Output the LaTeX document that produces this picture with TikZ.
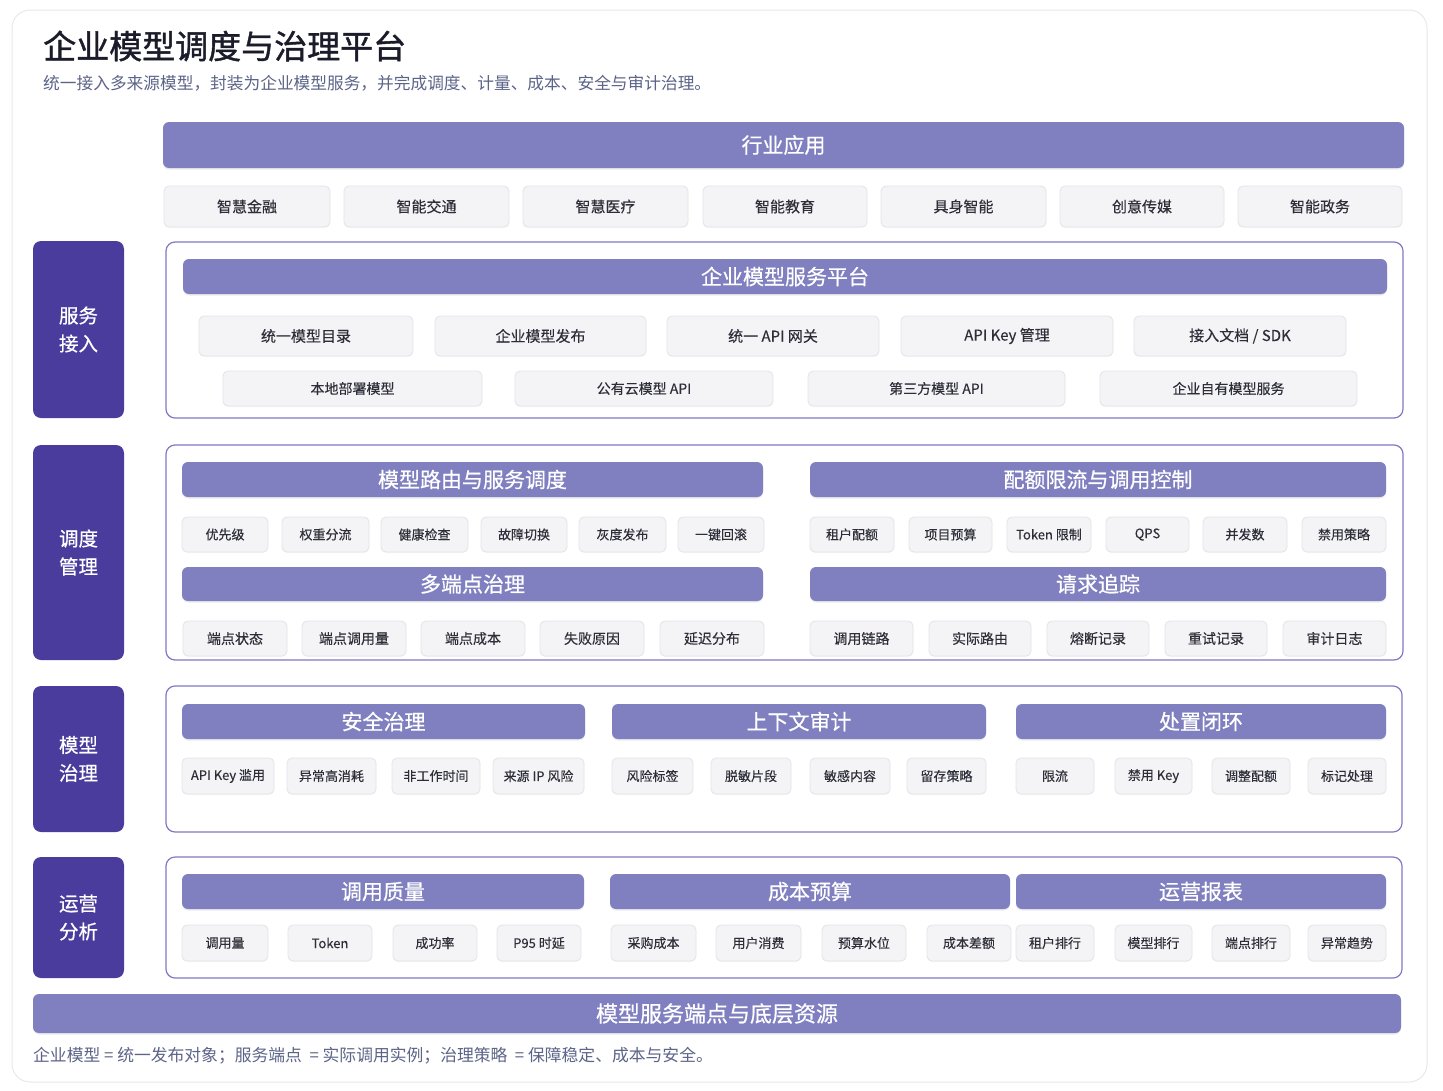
\documentclass[tikz,border=0pt]{standalone}
\usepackage{fontspec}
\setmainfont{Noto Sans CJK SC}
\setsansfont{Noto Sans CJK SC}
\newfontfamily\titf[FakeBold=1.2]{Noto Sans CJK SC}
\newfontfamily\medf[FakeBold=0.6]{Noto Sans CJK SC}
\newfontfamily\chipf[FakeBold=0.3]{Noto Sans CJK SC}
\usetikzlibrary{shadows}
\definecolor{barc}{HTML}{8080C0}
\definecolor{labc}{HTML}{4A3C9C}
\definecolor{framec}{HTML}{8078C6}
\definecolor{chipfc}{HTML}{F4F4F7}
\definecolor{chipd}{HTML}{E3E3EA}
\definecolor{chipt}{HTML}{2E2E38}
\definecolor{titc}{HTML}{1B1B2A}
\definecolor{subc}{HTML}{5C6488}
\definecolor{cardd}{HTML}{E8E8EE}
\newcommand\bx[7]{\node[#6, minimum width={(#4-#2)*1pt}, minimum height={(#5-#3)*1pt}] (#1) at ({(#2+#4)/2},{(#3+#5)/2}) {#7};}
\tikzset{
  base/.style={inner sep=0pt, outer sep=0pt, align=center},
  barbox/.style={base, fill=barc, rounded corners=6pt, text=white, font=\medf\fontsize{21}{24}\selectfont,
    drop shadow={opacity=0.15, shadow xshift=0pt, shadow yshift=-1.5pt}},
  chipbox/.style={base, fill=chipfc, draw=chipd, line width=0.8pt, rounded corners=5pt, text=chipt,
    drop shadow={opacity=0.06, shadow xshift=0pt, shadow yshift=-1pt}},
  fA/.style={font=\chipf\fontsize{15}{18}\selectfont},
  fB/.style={font=\chipf\fontsize{14}{17}\selectfont},
  fC/.style={font=\chipf\fontsize{13}{16}\selectfont},
  labbox/.style={base, fill=labc, rounded corners=8pt, text=white, font=\medf\fontsize{19.5}{28}\selectfont},
  framebox/.style={base, fill=white, draw=framec, line width=1.2pt, rounded corners=9pt},
}
\begin{document}
\begin{tikzpicture}[x=1pt,y=-1pt]
\useasboundingbox (0,0) rectangle (1443,1090);
\fill[white] (0,0) rectangle (1443,1090);
\draw[cardd, fill=white, rounded corners=18pt, line width=1pt] (12,10) rectangle (1427,1082);

\node[anchor=west, text=titc, font=\titf\fontsize{33}{38}\selectfont, inner sep=0pt] (title) at (43,46) {企业模型调度与治理平台};
\node[anchor=west, text=subc, font=\fontsize{16.7}{19}\selectfont, inner sep=0pt] (subtitle) at (43,83) {统一接入多来源模型，封装为企业模型服务，并完成调度、计量、成本、安全与审计治理。};

% top bar
\bx{app}{163}{122}{1404}{168}{barbox}{行业应用}
\bx{i1}{164}{186}{330}{227}{chipbox,fA}{智慧金融}
\bx{i2}{344}{186}{509}{227}{chipbox,fA}{智能交通}
\bx{i3}{523}{186}{688}{227}{chipbox,fA}{智慧医疗}
\bx{i4}{703}{186}{867}{227}{chipbox,fA}{智能教育}
\bx{i5}{881}{186}{1046}{227}{chipbox,fA}{具身智能}
\bx{i6}{1060}{186}{1224}{227}{chipbox,fA}{创意传媒}
\bx{i7}{1238}{186}{1402}{227}{chipbox,fA}{智能政务}

% left labels
\bx{L1}{33}{241}{124}{418}{labbox}{服务\\接入}
\bx{L2}{33}{445}{124}{660}{labbox}{调度\\管理}
\bx{L3}{33}{686}{124}{832}{labbox}{模型\\治理}
\bx{L4}{33}{857}{124}{978}{labbox}{运营\\分析}

% frames
\bx{F1}{166}{242}{1403}{418}{framebox}{}
\bx{F2}{166}{445}{1403}{660}{framebox}{}
\bx{F3}{166}{686}{1402}{832}{framebox}{}
\bx{F4}{166}{857}{1402}{978}{framebox}{}

% frame 1
\bx{b1}{183}{259}{1387}{294}{barbox}{企业模型服务平台}
\bx{s1}{199}{316}{413}{356}{chipbox,fA}{统一模型目录}
\bx{s2}{435}{316}{646}{356}{chipbox,fA}{企业模型发布}
\bx{s3}{667}{316}{879}{356}{chipbox,fA}{统一 API 网关}
\bx{s4}{901}{316}{1113}{356}{chipbox,fA}{API Key 管理}
\bx{s5}{1134}{316}{1346}{356}{chipbox,fA}{接入文档 / SDK}
\bx{m1}{223}{371}{482}{406}{chipbox,fB}{本地部署模型}
\bx{m2}{515}{371}{773}{406}{chipbox,fB}{公有云模型 API}
\bx{m3}{808}{371}{1065}{406}{chipbox,fB}{第三方模型 API}
\bx{m4}{1100}{371}{1357}{406}{chipbox,fB}{企业自有模型服务}

% frame 2
\bx{b21}{182}{462}{763}{497}{barbox}{模型路由与服务调度}
\bx{b22}{810}{462}{1386}{497}{barbox}{配额限流与调用控制}
\bx{r1}{182}{517}{268}{552}{chipbox,fC}{优先级}
\bx{r2}{282}{517}{369}{552}{chipbox,fC}{权重分流}
\bx{r3}{381}{517}{468}{552}{chipbox,fC}{健康检查}
\bx{r4}{481}{517}{567}{552}{chipbox,fC}{故障切换}
\bx{r5}{579}{517}{666}{552}{chipbox,fC}{灰度发布}
\bx{r6}{678}{517}{764}{552}{chipbox,fC}{一键回滚}
\bx{q1}{810}{517}{894}{552}{chipbox,fC}{租户配额}
\bx{q2}{909}{517}{992}{552}{chipbox,fC}{项目预算}
\bx{q3}{1007}{517}{1091}{552}{chipbox,fC}{Token 限制}
\bx{q4}{1106}{517}{1189}{552}{chipbox,fC}{QPS}
\bx{q5}{1203}{517}{1287}{552}{chipbox,fC}{并发数}
\bx{q6}{1302}{517}{1386}{552}{chipbox,fC}{禁用策略}
\bx{b23}{182}{567}{763}{601}{barbox}{多端点治理}
\bx{b24}{810}{567}{1386}{601}{barbox}{请求追踪}
\bx{e1}{183}{621}{287}{656}{chipbox,fB}{端点状态}
\bx{e2}{302}{621}{406}{656}{chipbox,fB}{端点调用量}
\bx{e3}{421}{621}{525}{656}{chipbox,fB}{端点成本}
\bx{e4}{540}{621}{644}{656}{chipbox,fB}{失败原因}
\bx{e5}{660}{621}{764}{656}{chipbox,fB}{延迟分布}
\bx{t1}{810}{621}{913}{656}{chipbox,fB}{调用链路}
\bx{t2}{929}{621}{1031}{656}{chipbox,fB}{实际路由}
\bx{t3}{1047}{621}{1149}{656}{chipbox,fB}{熔断记录}
\bx{t4}{1165}{621}{1267}{656}{chipbox,fB}{重试记录}
\bx{t5}{1283}{621}{1386}{656}{chipbox,fB}{审计日志}

% frame 3
\bx{b31}{182}{704}{585}{739}{barbox}{安全治理}
\bx{b32}{612}{704}{986}{739}{barbox}{上下文审计}
\bx{b33}{1016}{704}{1386}{739}{barbox}{处置闭环}
\bx{g1}{182}{758}{274}{794}{chipbox,fC}{API Key 滥用}
\bx{g2}{287}{758}{376}{794}{chipbox,fC}{异常高消耗}
\bx{g3}{392}{758}{480}{794}{chipbox,fC}{非工作时间}
\bx{g4}{493}{758}{584}{794}{chipbox,fC}{来源 IP 风险}
\bx{g5}{612}{758}{693}{794}{chipbox,fC}{风险标签}
\bx{g6}{711}{758}{791}{794}{chipbox,fC}{脱敏片段}
\bx{g7}{810}{758}{890}{794}{chipbox,fC}{敏感内容}
\bx{g8}{907}{758}{986}{794}{chipbox,fC}{留存策略}
\bx{g9}{1016}{758}{1094}{794}{chipbox,fC}{限流}
\bx{g10}{1115}{758}{1192}{794}{chipbox,fC}{禁用 Key}
\bx{g11}{1212}{758}{1290}{794}{chipbox,fC}{调整配额}
\bx{g12}{1308}{758}{1386}{794}{chipbox,fC}{标记处理}

% frame 4
\bx{b41}{182}{874}{584}{909}{barbox}{调用质量}
\bx{b42}{610}{874}{1010}{909}{barbox}{成本预算}
\bx{b43}{1016}{874}{1386}{909}{barbox}{运营报表}
\bx{o1}{182}{925}{268}{961}{chipbox,fC}{调用量}
\bx{o2}{288}{925}{372}{961}{chipbox,fC}{Token}
\bx{o3}{393}{925}{477}{961}{chipbox,fC}{成功率}
\bx{o4}{497}{925}{581}{961}{chipbox,fC}{P95 时延}
\bx{o5}{611}{925}{696}{961}{chipbox,fC}{采购成本}
\bx{o6}{716}{925}{801}{961}{chipbox,fC}{用户消费}
\bx{o7}{822}{925}{906}{961}{chipbox,fC}{预算水位}
\bx{o8}{927}{925}{1011}{961}{chipbox,fC}{成本差额}
\bx{o9}{1016}{925}{1094}{961}{chipbox,fC}{租户排行}
\bx{o10}{1115}{925}{1192}{961}{chipbox,fC}{模型排行}
\bx{o11}{1212}{925}{1290}{961}{chipbox,fC}{端点排行}
\bx{o12}{1308}{925}{1386}{961}{chipbox,fC}{异常趋势}

% bottom
\bx{res}{33}{994}{1401}{1033}{barbox,font=\medf\fontsize{22}{26}\selectfont}{模型服务端点与底层资源}
\node[anchor=west, text=subc, font=\fontsize{16.8}{19}\selectfont, inner sep=0pt] (foot) at (33,1056) {企业模型 = 统一发布对象；服务端点 \ = 实际调用实例；治理策略 \ = 保障稳定、成本与安全。};
\end{tikzpicture}
\end{document}
